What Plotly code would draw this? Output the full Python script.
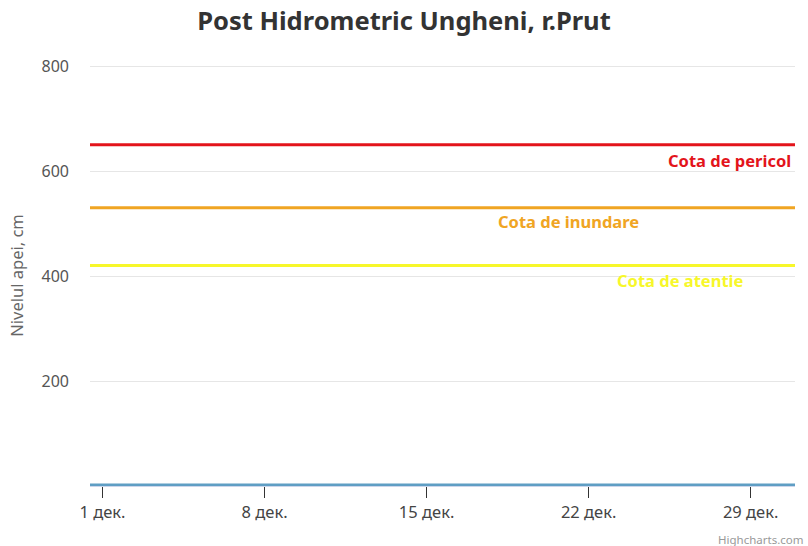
import plotly.graph_objects as go

title_text = "Post Hidrometric Ungheni, r.Prut"
y_title = "Nivelul apei, cm"

dates = ["2023-11-30", "2023-12-01", "2023-12-02", "2023-12-03", "2023-12-04", "2023-12-05",
         "2023-12-06", "2023-12-07", "2023-12-08", "2023-12-09", "2023-12-10", "2023-12-11",
         "2023-12-12", "2023-12-13", "2023-12-14", "2023-12-15", "2023-12-16", "2023-12-17",
         "2023-12-18", "2023-12-19", "2023-12-20", "2023-12-21", "2023-12-22", "2023-12-23",
         "2023-12-24", "2023-12-25", "2023-12-26", "2023-12-27", "2023-12-28", "2023-12-29",
         "2023-12-30", "2023-12-31"]
levels = [2, 2, 2, 2, 2, 2, 2, 2, 2, 2, 2, 2, 2, 2, 2, 2,
          2, 2, 2, 2, 2, 2, 2, 2, 2, 2, 2, 2, 2, 2, 2, 2]

x_tick_vals = ["2023-12-01", "2023-12-08", "2023-12-15", "2023-12-22", "2023-12-29"]
x_tick_text = ["1 дек.", "8 дек.", "15 дек.", "22 дек.", "29 дек."]
y_tick_vals = [200, 400, 600, 800]

threshold_names = ["Cota de pericol", "Cota de inundare", "Cota de atentie"]
threshold_values = [650, 530, 420]
threshold_colors = ["#e3141b", "#f0a523", "#f7f72a"]
label_x = [0.997, 0.679, 0.838]
label_anchor = ["right", "center", "center"]
label_offset = [-16, -14, -15]

font_family = "Noto Sans, Open Sans, sans-serif"

fig = go.Figure()
fig.add_trace(go.Scatter(
    x=dates, y=levels, mode="lines",
    line=dict(color="#5f9ec4", width=3),
    showlegend=False, hoverinfo="x+y",
))

for name, val, col, lx, anc, off in zip(threshold_names, threshold_values, threshold_colors,
                                         label_x, label_anchor, label_offset):
    fig.add_shape(type="line", xref="paper", yref="y", x0=0, x1=1, y0=val, y1=val,
                  line=dict(color=col, width=3), layer="above")
    fig.add_annotation(xref="paper", yref="y", x=lx, y=val, text="<b>" + name + "</b>",
                       showarrow=False, xanchor=anc, yanchor="middle", yshift=off,
                       font=dict(color=col, size=16.5, family=font_family))

fig.add_annotation(xref="paper", yref="paper", x=1.014, y=-0.126, text="Highcharts.com",
                   showarrow=False, xanchor="right", yanchor="middle",
                   font=dict(color="#999999", size=11.5, family=font_family))

fig.update_layout(
    width=808, height=546,
    margin=dict(l=90, r=13, t=65, b=60),
    paper_bgcolor="white", plot_bgcolor="white",
    title=dict(text="<b>" + title_text + "</b>", x=0.5, xanchor="center", y=0.962, yanchor="middle",
               font=dict(size=25.5, color="#333333", family=font_family)),
    xaxis=dict(range=["2023-11-30 11:00", "2023-12-30 22:00"], tickvals=x_tick_vals,
               ticktext=x_tick_text, ticks="outside", ticklen=11, tickcolor="#333333",
               tickwidth=1, showgrid=False, showline=True, linecolor="#ccd6eb", linewidth=1,
               zeroline=False, automargin=False,
               tickfont=dict(size=16.5, color="#444444", family=font_family)),
    yaxis=dict(range=[0, 802], tickvals=y_tick_vals, showgrid=True, gridcolor="#e6e6e6",
               gridwidth=1, zeroline=False, showline=False, ticks="", automargin=False,
               ticklabelstandoff=20,
               title=dict(text=y_title, font=dict(size=16.5, color="#666666", family=font_family),
                          standoff=13),
               tickfont=dict(size=16, color="#555555", family=font_family)),
)

fig.write_html("out.html", post_script="document.body.style.margin='0';",
               config={"displayModeBar": False})
